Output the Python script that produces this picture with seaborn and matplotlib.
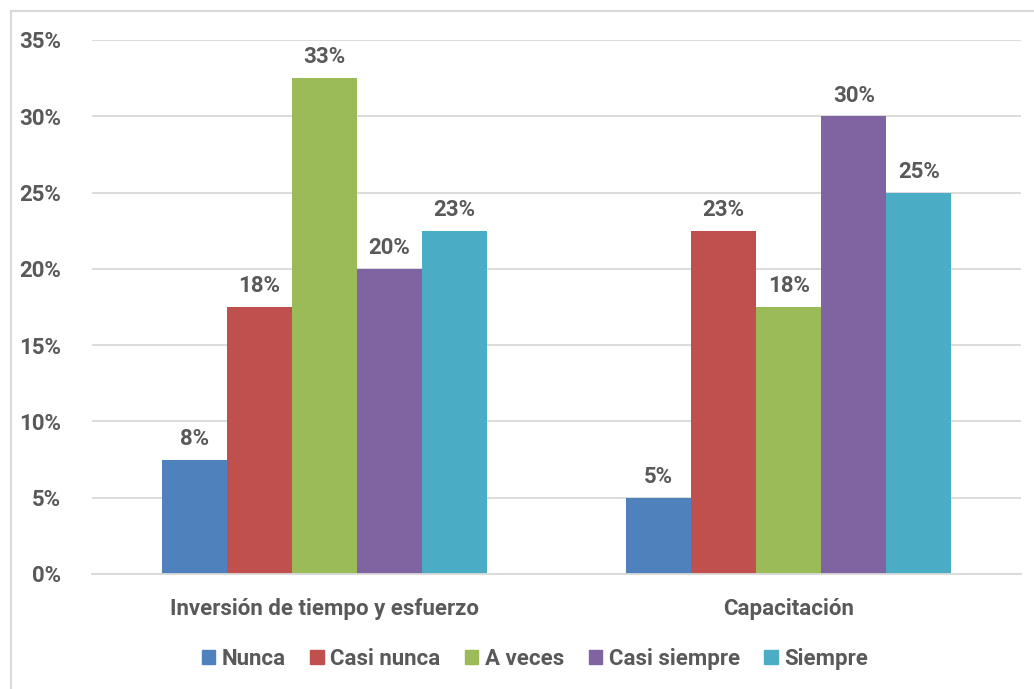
import matplotlib
matplotlib.use("Agg")
import matplotlib.pyplot as plt
import seaborn as sns
import pandas as pd
from matplotlib.ticker import FuncFormatter, MultipleLocator
from matplotlib.lines import Line2D

categories = ["Inversión de tiempo y esfuerzo", "Capacitación"]
series = ["Nunca", "Casi nunca", "A veces", "Casi siempre", "Siempre"]
nunca = [7.5, 5.0]
casi_nunca = [17.5, 22.5]
a_veces = [32.5, 17.5]
casi_siempre = [20.0, 30.0]
siempre = [22.5, 25.0]
labels = [["8%", "5%"], ["18%", "23%"], ["33%", "18%"], ["20%", "30%"], ["23%", "25%"]]
colors = ["#4F81BD", "#C0504D", "#9BBB59", "#8064A2", "#4BACC6"]

values = [nunca, casi_nunca, a_veces, casi_siempre, siempre]
rows = []
for s, vals in zip(series, values):
    for c, v in zip(categories, vals):
        rows.append({"cat": c, "serie": s, "val": v})
df = pd.DataFrame(rows)

sns.set_theme(style="white")
plt.rcParams["font.family"] = ["Roboto", "DejaVu Sans"]
txt = "#595959"
fs = 16

fig = plt.figure(figsize=(10.34, 6.89), dpi=100)
ax = fig.add_axes([92/1034, 1-574/689, (1021-92)/1034, (574-40)/689])

sns.barplot(data=df, x="cat", y="val", hue="serie", order=categories,
            hue_order=series, palette=colors, width=0.7, ax=ax,
            saturation=1, legend=False, edgecolor="none")

for cont, labs in zip(ax.containers, labels):
    ax.bar_label(cont, labels=labs, padding=7, fontsize=fs,
                 fontweight="bold", color=txt)

ax.set_ylim(0, 35)
ax.yaxis.set_major_locator(MultipleLocator(5))
ax.yaxis.set_major_formatter(FuncFormatter(lambda v, p: f"{v:.0f}%"))
ax.set_xlim(-0.5, 1.5)
ax.grid(axis="y", color="#D9D9D9", linewidth=1.3)
ax.set_axisbelow(True)
for s in ["top", "right", "left"]:
    ax.spines[s].set_visible(False)
ax.spines["bottom"].set_color("#D9D9D9")
ax.spines["bottom"].set_linewidth(1.3)
ax.set_xlabel("")
ax.set_ylabel("")
ax.tick_params(axis="both", length=0, labelsize=fs, labelcolor=txt)
ax.tick_params(axis="y", pad=22)
ax.tick_params(axis="x", pad=17)
for t in ax.get_xticklabels() + ax.get_yticklabels():
    t.set_fontweight("bold")

handles = [plt.Rectangle((0, 0), 1, 1, color=c) for c in colors]
leg = fig.legend(handles, series, loc="center", bbox_to_anchor=(535/1034, 1-659/689),
                 ncol=5, frameon=False, handlelength=0.6, handleheight=0.6,
                 handletextpad=0.3, columnspacing=1.1,
                 prop={"size": fs, "weight": "bold"})
for t in leg.get_texts():
    t.set_color(txt)

fig.add_artist(Line2D([11/1034, 11/1034], [0, 1-11/689], color="#D9D9D9", lw=1.5))
fig.add_artist(Line2D([11/1034, 1], [1-11/689, 1-11/689], color="#D9D9D9", lw=1.5))

fig.savefig("out.png", dpi=100)
